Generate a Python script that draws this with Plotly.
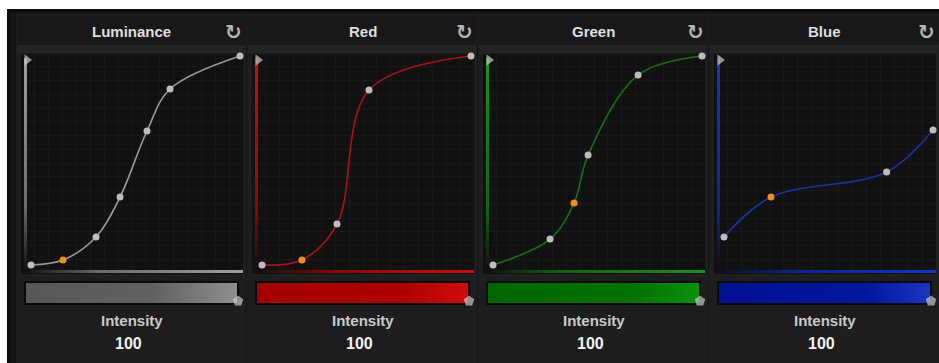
import plotly.graph_objects as go

W, H = 939, 363

# ---------------- data ----------------
titles = ["Luminance", "Red", "Green", "Blue"]
intensity_label = "Intensity"
intensity_values = ["100", "100", "100", "100"]

lum_x = [0.0, 0.153, 0.311, 0.426, 0.555, 0.665, 1.0]
lum_y = [0.0, 0.024, 0.134, 0.325, 0.641, 0.842, 1.0]
red_x = [0.0, 0.191, 0.359, 0.512, 1.0]
red_y = [0.0, 0.024, 0.196, 0.837, 1.0]
green_x = [0.0, 0.273, 0.388, 0.455, 0.694, 1.0]
green_y = [0.0, 0.124, 0.297, 0.526, 0.909, 1.0]
blue_x = [0.0, 0.225, 0.778, 1.0]
blue_y = [0.134, 0.325, 0.445, 0.646]
selected_point = [1, 1, 2, 1]

curves_x = [lum_x, red_x, green_x, blue_x]
curves_y = [lum_y, red_y, green_y, blue_y]

# ---------------- styles ----------------
line_colors = ["#9a9a9a", "#a81218", "#1a6e1a", "#1a34a0"]
axis_top_colors = ["#a0a0a0", "#c80d0d", "#1f8f1f", "#1533c8"]
axis_mid_colors = ["#6a6a6a", "#8a0808", "#136413", "#0e2490"]
bar_scales = [
    [[0, "#565656"], [0.6, "#616161"], [1, "#8e8e8e"]],
    [[0, "#a40000"], [0.7, "#b00000"], [1, "#cf0c0c"]],
    [[0, "#006600"], [0.7, "#007300"], [1, "#0b910b"]],
    [[0, "#000f92"], [0.7, "#00179f"], [1, "#1a36c4"]],
]
PANEL_STEP = 231
SCALE = 209.0
FONT = "Liberation Sans, Arial, sans-serif"


def Y(py):
    return H - py


fig = go.Figure()
shapes = []
annotations = []


def rect(x0, y0, x1, y1, fill, line=None, lw=0):
    shapes.append(dict(type="rect", xref="paper", yref="paper", layer="below",
                       x0=x0 / W, x1=x1 / W, y0=1 - y0 / H, y1=1 - y1 / H, fillcolor=fill,
                       line=dict(color=line or fill, width=lw)))


canvas_traces = []


def grad_rect(x0, y0, x1, y1, kind, scale):
    canvas_traces.append(go.Scatter(
        x=[x0, x1, x1, x0, x0], y=[Y(y0), Y(y0), Y(y1), Y(y1), Y(y0)],
        fill="toself", mode="none",
        fillgradient=dict(type=kind, colorscale=scale),
        xaxis="x5", yaxis="y5", hoverinfo="skip", showlegend=False))


# base frame
rect(7, 9, W, H, "#0d0d0d")
rect(10, 12, W, H, "#151515")

for i in range(4):
    o = PANEL_STEP * i
    rect(16 + o, 14, 246 + o, H, "#1d1d1d")
    rect(17 + o, 16, 245 + o, 45, "#181818")
    rect(17 + o, 45, 245 + o, 53, "#232323")
    rect(20 + o, 53, 244 + o, 275, "#111111", "#262626", 1)
    rect(24 + o, 281, 239 + o, 305, "#0a0a0a")

# curve subplots (drawn first)
layout_axes = {}
for i in range(4):
    o = PANEL_STEP * i
    k = i + 1
    sfx = "" if k == 1 else str(k)
    xr = [(21 - 31) / SCALE, (243 - 31) / SCALE]
    yr = [(265 - 273) / SCALE, (265 - 53) / SCALE]
    layout_axes["xaxis%s" % sfx] = dict(
        domain=[(21 + o) / W, (243 + o) / W], range=xr, anchor="y%s" % sfx,
        showgrid=True, gridcolor="#181818", gridwidth=1, tick0=xr[0], dtick=(xr[1] - xr[0]) / 16,
        zeroline=False, showticklabels=False, ticks="", showline=False, fixedrange=True)
    layout_axes["yaxis%s" % sfx] = dict(
        domain=[1 - 273 / H, 1 - 53 / H], range=yr, anchor="x%s" % sfx,
        showgrid=True, gridcolor="#181818", gridwidth=1, tick0=yr[0], dtick=(yr[1] - yr[0]) / 16,
        zeroline=False, showticklabels=False, ticks="", showline=False, fixedrange=True)

    xs, ys = curves_x[i], curves_y[i]
    fig.add_trace(go.Scatter(
        x=xs, y=ys, mode="lines", line=dict(color=line_colors[i], width=1.6, shape="spline", smoothing=1.0),
        xaxis="x%s" % sfx, yaxis="y%s" % sfx, hoverinfo="skip", showlegend=False, cliponaxis=False))
    sel = selected_point[i]
    colors = ["#f28c1c" if j == sel else "#bdbdbd" for j in range(len(xs))]
    fig.add_trace(go.Scatter(
        x=xs, y=ys, mode="markers", marker=dict(size=7, color=colors, line=dict(width=0)),
        xaxis="x%s" % sfx, yaxis="y%s" % sfx, hoverinfo="skip", showlegend=False, cliponaxis=False))

# canvas overlay (x5/y5): gradient axis lines, bars, handles, texts
for i in range(4):
    o = PANEL_STEP * i
    top = axis_top_colors[i]
    mid = axis_mid_colors[i]
    grad_rect(24 + o, 271, 27 + o, 58, "vertical",
              [[0, "#101010"], [0.3, mid], [1, top]])
    grad_rect(24 + o, 273, 243 + o, 270, "horizontal",
              [[0, "#101010"], [0.35, mid], [1, top]])
    grad_rect(26 + o, 303, 237 + o, 283, "horizontal", bar_scales[i])

    canvas_traces.append(go.Scatter(
        x=[27 + o, 238 + o], y=[Y(60), Y(301)], mode="markers",
        marker=dict(symbol=["triangle-right", "pentagon"], size=[10, 11],
                    color="#c9c9c9", line=dict(width=0)),
        xaxis="x5", yaxis="y5", hoverinfo="skip", showlegend=False, cliponaxis=False))

    cx = 131.5 + o
    annotations.append(dict(x=cx, y=Y(31), xref="x5", yref="y5", text="<b>%s</b>" % titles[i],
                            showarrow=False, font=dict(family=FONT, size=15, color="#dedede")))
    annotations.append(dict(x=233 + o, y=Y(32), xref="x5", yref="y5", text="<b>↻</b>",
                            showarrow=False, font=dict(family="DejaVu Sans", size=20, color="#b4b4b4")))
    annotations.append(dict(x=cx, y=Y(320), xref="x5", yref="y5", text="<b>%s</b>" % intensity_label,
                            showarrow=False, font=dict(family=FONT, size=15, color="#c9c9c9")))
    annotations.append(dict(x=cx - 3, y=Y(343), xref="x5", yref="y5", text="<b>%s</b>" % intensity_values[i],
                            showarrow=False, font=dict(family=FONT, size=16, color="#f2f2f2")))

for t in canvas_traces:
    fig.add_trace(t)

fig.update_layout(
    width=W, height=H, margin=dict(l=0, r=0, t=0, b=0),
    paper_bgcolor="#ffffff", plot_bgcolor="rgba(0,0,0,0)",
    xaxis5=dict(domain=[0, 1], range=[0, W], visible=False, fixedrange=True, anchor="y5"),
    yaxis5=dict(domain=[0, 1], range=[0, H], visible=False, fixedrange=True, anchor="x5"),
    shapes=shapes, annotations=annotations, showlegend=False,
    **layout_axes)

fig.write_html("out.html", config={"displayModeBar": False},
               post_script="document.body.style.margin='0';document.body.style.overflow='hidden';")
